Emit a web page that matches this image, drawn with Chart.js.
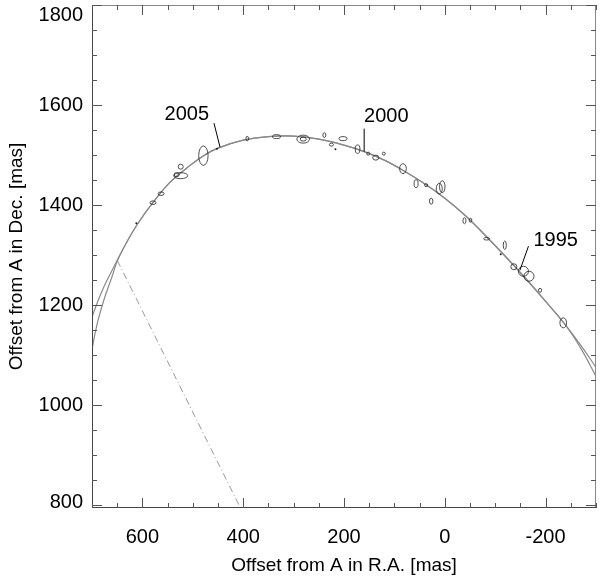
<!DOCTYPE html>
<html>
<head>
<meta charset="utf-8">
<script src="https://cdn.jsdelivr.net/npm/chart.js@4.4.1/dist/chart.umd.min.js"></script>
<style>
  html, body { margin: 0; padding: 0; background: #fff; }
</style>
</head>
<body>
<canvas id="orbit" width="600" height="580"></canvas>
<script>
// orbit fits (two solutions, R.A. offset vs Dec. offset, mas)
const fitX = [700, 690, 675, 660, 650, 630, 610, 580, 545, 510, 480, 450, 400, 350, 300, 250, 200, 160, 120, 80, 40, 0, -40, -80, -120, -160, -200, -240, -270, -300];
const fitA = [1112, 1162, 1215, 1258, 1288, 1328, 1362, 1404, 1446, 1476, 1498, 1514, 1530, 1537, 1538, 1532, 1520, 1507, 1490, 1468, 1443, 1414, 1380, 1340, 1298, 1254, 1208, 1160, 1114, 1058];
const fitB = [1176, 1204, 1240, 1270, 1290, 1328, 1362, 1404, 1446, 1476, 1498, 1514, 1530, 1537, 1538, 1532, 1520, 1507, 1490, 1468, 1443, 1414, 1380, 1340, 1298, 1254, 1208, 1160, 1120, 1076];

// dash-dot line (periastron direction)
const lineX = [650, 400];
const lineY = [1290, 784];

// measured positions with error ellipse half-axes (mas)
const obsX  = [612, 579, 563, 532, 524, 524, 479, 452, 392, 334, 281, 281, 239, 225, 217, 202, 173, 152, 137, 121, 83, 57, 37, 27, 11, 5, -39, -51, -83, -119, -111, -137, -156, -167, -189, -235];
const obsY  = [1364, 1405, 1423, 1461, 1459, 1477, 1499, 1513, 1533, 1537, 1532, 1532, 1540, 1521, 1512, 1533, 1512, 1503, 1495, 1503, 1473, 1443, 1440, 1408, 1433, 1437, 1369, 1370, 1333, 1320, 1302, 1277, 1268, 1258, 1230, 1165];
const obsEx = [2, 6, 6, 5, 14, 5, 9.3, 2, 2.6, 8, 12.6, 6, 3, 4, 2, 8, 4.6, 3, 6, 3, 6.6, 4, 3, 3.4, 6, 5.4, 3, 2.6, 6, 3, 2, 6, 10, 10, 3, 6.6];
const obsEy = [2, 3.5, 3.5, 4, 6, 5, 19.4, 2, 4.6, 4, 8, 4, 4.6, 3, 2, 4, 8.6, 3, 5, 3, 10, 8, 3, 6, 10.6, 12, 6, 4, 2.6, 8.6, 2, 6, 10, 10, 4, 10];

// epoch labels and their leader lines
const epochText = ['2005', '2000', '1995'];
const epochX = [512, 116, -220];
const epochY = [1582, 1578, 1330];
const leadFromX = [458, 160, -166];
const leadFromY = [1564, 1553, 1318];
const leadToX = [446, 160, -149];
const leadToY = [1516, 1507, 1270];

const xMajor = [600, 400, 200, 0, -200];
const yMajor = [800, 1000, 1200, 1400, 1600, 1800];
const xMinor = [];
for (let v = 700; v >= -300; v -= 50) xMinor.push(v);
const yMinor = [];
for (let v = 800; v <= 1800; v += 50) yMinor.push(v);

const FONT = 'Liberation Sans, Arial, Helvetica, sans-serif';

const pts = (xs, ys) => xs.map((x, i) => ({ x, y: ys[i] }));

const framePlugin = {
  id: 'frame',
  afterDatasetsDraw(chart) {
    const { ctx, chartArea: a, scales: { x, y } } = chart;
    ctx.save();

    // error ellipses
    ctx.strokeStyle = '#222';
    ctx.fillStyle = '#222';
    ctx.lineWidth = 0.8;
    obsX.forEach((vx, i) => {
      const cx = x.getPixelForValue(vx);
      const cy = y.getPixelForValue(obsY[i]);
      const rx = Math.abs(x.getPixelForValue(vx + obsEx[i]) - cx);
      const ry = Math.abs(y.getPixelForValue(obsY[i] + obsEy[i]) - cy);
      ctx.beginPath();
      ctx.ellipse(cx, cy, rx, ry, 0, 0, Math.PI * 2);
      if (obsEx[i] <= 2) ctx.fill(); else ctx.stroke();
    });

    // epoch labels
    ctx.strokeStyle = '#000';
    ctx.lineWidth = 1;
    ctx.fillStyle = '#000';
    ctx.font = '20px ' + FONT;
    ctx.textAlign = 'center';
    ctx.textBaseline = 'middle';
    epochText.forEach((t, i) => {
      ctx.beginPath();
      ctx.moveTo(x.getPixelForValue(leadFromX[i]), y.getPixelForValue(leadFromY[i]));
      ctx.lineTo(x.getPixelForValue(leadToX[i]), y.getPixelForValue(leadToY[i]));
      ctx.stroke();
      ctx.fillText(t, x.getPixelForValue(epochX[i]), y.getPixelForValue(epochY[i]));
    });

    // y tick labels, kept inside the frame height like the original
    ctx.textAlign = 'right';
    yMajor.forEach((v) => {
      const py = Math.min(Math.max(y.getPixelForValue(v), a.top + 10), a.bottom - 6);
      ctx.fillText(String(v), a.left - 9, py);
    });

    // frame and inward ticks
    ctx.lineWidth = 1;
    ctx.strokeStyle = '#888';
    ctx.beginPath();
    ctx.moveTo(a.left, a.top + 0.5); ctx.lineTo(a.right, a.top + 0.5);
    ctx.moveTo(a.right - 0.5, a.top); ctx.lineTo(a.right - 0.5, a.bottom);
    ctx.stroke();
    ctx.strokeStyle = '#444';
    ctx.beginPath();
    ctx.moveTo(a.left + 0.5, a.top); ctx.lineTo(a.left + 0.5, a.bottom);
    ctx.moveTo(a.left, a.bottom - 0.5); ctx.lineTo(a.right, a.bottom - 0.5);
    ctx.stroke();

    ctx.beginPath();
    xMinor.forEach((v) => {
      const px = Math.round(x.getPixelForValue(v)) + 0.5;
      const len = xMajor.includes(v) ? 10 : 5;
      ctx.moveTo(px, a.bottom); ctx.lineTo(px, a.bottom - len);
      ctx.moveTo(px, a.top); ctx.lineTo(px, a.top + len);
    });
    yMinor.forEach((v) => {
      const py = Math.round(y.getPixelForValue(v)) + 0.5;
      const len = yMajor.includes(v) ? 10 : 5;
      ctx.moveTo(a.left, py); ctx.lineTo(a.left + len, py);
      ctx.moveTo(a.right, py); ctx.lineTo(a.right - len, py);
    });
    ctx.strokeStyle = '#555';
    ctx.stroke();
    ctx.restore();
  },
};

new Chart(document.getElementById('orbit'), {
  type: 'scatter',
  data: {
    datasets: [
      { data: pts(fitX, fitA), showLine: true, borderColor: '#8a8a8a', borderWidth: 1.2, pointRadius: 0, tension: 0.4 },
      { data: pts(fitX, fitB), showLine: true, borderColor: '#8a8a8a', borderWidth: 1.2, pointRadius: 0, tension: 0.4 },
      { data: pts(lineX, lineY), showLine: true, borderColor: '#999', borderWidth: 1, borderDash: [7, 3, 1, 3], pointRadius: 0 },
    ],
  },
  options: {
    responsive: false,
    animation: false,
    layout: { padding: { top: 5, right: 4, left: 0, bottom: 0 } },
    plugins: { legend: { display: false }, tooltip: { enabled: false } },
    scales: {
      x: {
        type: 'linear',
        reverse: true,
        min: -300,
        max: 700,
        grid: { display: false, drawTicks: false },
        border: { display: false },
        afterBuildTicks: (s) => { s.ticks = xMajor.map((value) => ({ value })); },
        afterFit: (s) => { s.height = 72; s.paddingLeft = 0; s.paddingRight = 0; },
        ticks: { padding: 17, color: '#000', font: { family: FONT, size: 20 }, maxRotation: 0, callback: (v) => String(v) },
        title: { display: true, text: 'Offset from A in R.A. [mas]', color: '#000', font: { family: FONT, size: 19 }, padding: { top: 0, bottom: 3 } },
      },
      y: {
        type: 'linear',
        min: 795,
        max: 1800,
        grid: { display: false, drawTicks: false },
        border: { display: false },
        afterBuildTicks: (s) => { s.ticks = yMajor.map((value) => ({ value })); },
        afterFit: (s) => { s.width = 92; s.paddingTop = 0; s.paddingBottom = 0; },
        ticks: { display: false },
        title: { display: true, text: 'Offset from A in Dec. [mas]', color: '#000', font: { family: FONT, size: 19 }, padding: { top: 5, bottom: 0 } },
      },
    },
  },
  plugins: [framePlugin],
});
</script>
</body>
</html>
